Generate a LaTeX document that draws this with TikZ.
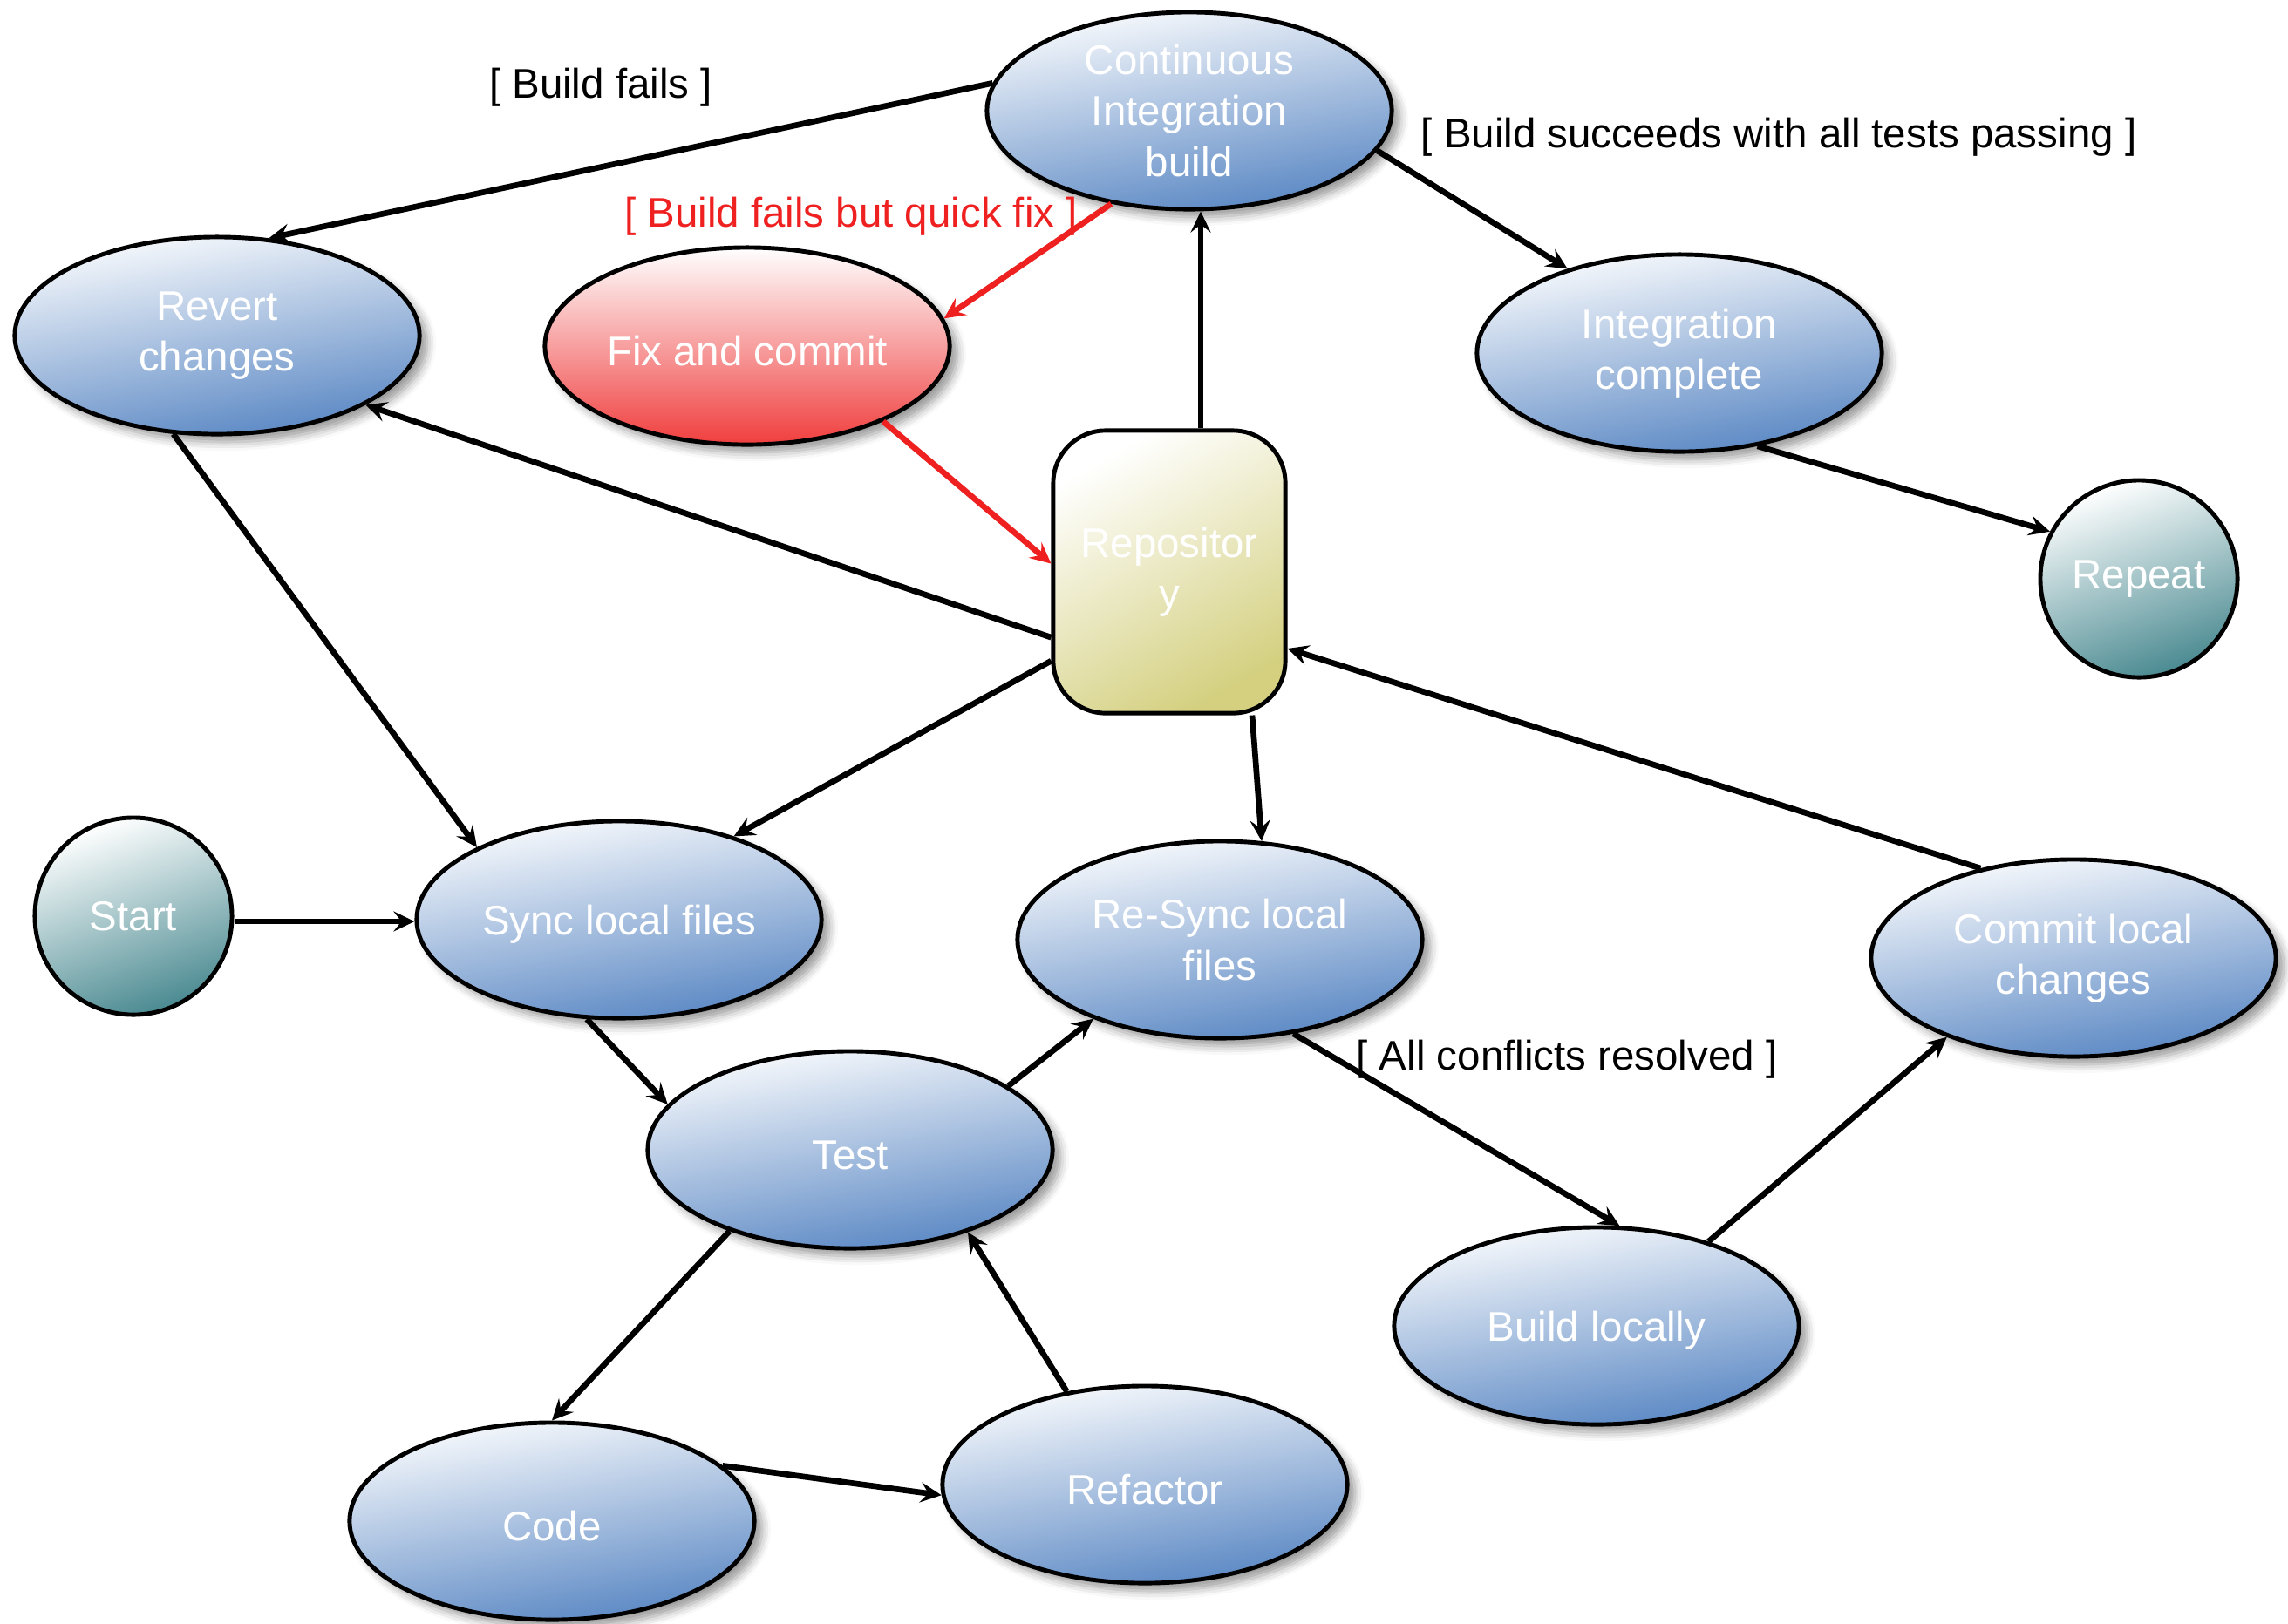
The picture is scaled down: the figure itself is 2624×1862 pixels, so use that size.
\documentclass[tikz,border=0pt]{standalone}
\usepackage{fontspec}
\setmainfont{Liberation Sans}
\usetikzlibrary{shapes,arrows,positioning}
\usetikzlibrary{arrows.meta,shadows.blur}

% colours of the states
\definecolor{stateblue}{RGB}{88,134,195}
\definecolor{statered}{RGB}{240,62,62}
\definecolor{stateteal}{RGB}{74,138,145}
\definecolor{repoolive}{RGB}{212,208,128}
\definecolor{fixred}{RGB}{238,32,32}

\tikzset{
  state/.style={ellipse, draw, line width=1.4pt, minimum width=4.64cm, minimum height=2.26cm,
    inner sep=-8pt, align=center, text=white, top color=white!96!stateblue, bottom color=stateblue,
    shading angle=10, execute at begin node={\rule{0pt}{13pt}},
    blur shadow={shadow xshift=0.9mm, shadow yshift=-0.9mm, shadow blur radius=1mm}},
  hotstate/.style={state, bottom color=statered, top color=white},
  endstate/.style={circle, draw, line width=1.4pt, minimum size=2.26cm, inner sep=0pt,
    text=white, top color=white, bottom color=stateteal, shading angle=20},
  repobox/.style={rectangle, rounded corners=0.6cm, draw, line width=1.4pt, minimum width=2.66cm,
    minimum height=3.24cm, align=center, text=white, top color=white, bottom color=repoolive, shading angle=30},
  guard/.style={inner sep=0pt},
  flow/.style={line width=1.9pt, -{Stealth[length=2.4mm,width=2.3mm,inset=0.9mm]}},
  quickfix/.style={flow, fixred}
}

\begin{document}
\begin{tikzpicture}[x=0.01cm, y=-0.01cm, font=\fontsize{13.5}{16.5}\selectfont]
\useasboundingbox (0,0) rectangle (2624,1862);

% States
\node[state] (ci) at (1364,127) {Continuous\\Integration\\build};
\node[state] (revert) at (249,385) {Revert\\changes};
\node[hotstate] (fix) at (857,397) {Fix and commit};
\node[state] (integ) at (1926,405) {Integration\\complete};
\node[endstate] (repeat) at (2453,664) {Repeat};
\node[repobox] (repo) at (1341,656) {Repositor\\y};
\node[endstate] (start) at (153,1051) {Start};
\node[state] (sync) at (710,1055) {Sync local files};
\node[state] (resync) at (1399,1078) {Re-Sync local\\files};
\node[state] (commit) at (2378,1099) {Commit local\\changes};
\node[state] (test) at (975,1319) {Test};
\node[state] (build) at (1831,1521) {Build locally};
\node[state] (code) at (633,1745) {Code};
\node[state] (refactor) at (1313,1703) {Refactor};

% Guards
\node[guard] (gfail) at (689,100) {[ Build fails ]};
\node[guard] (gpass) at (2040,157) {[ Build succeeds with all tests passing ]};
\node[guard, text=fixred] (gquick) at (976,248) {[ Build fails but quick fix ]};
\node[guard] (gresolved) at (1797,1215) {[ All conflicts resolved ]};

% Transitions
\foreach \a/\b in {ci.172/revert.62, ci.-12/integ.143, integ.-50/repeat.152,
                   repo.-151/revert.-25, revert.-114/sync.153, repo.-143/sync.36,
                   repo.-60/resync.67, commit.136/repo.-33,
                   sync.-108/test.166, test.22/resync.-148, resync.-52/build.77,
                   build.37/commit.-148, test.-146/code.north, code.18/refactor.-177,
                   refactor.130/test.-35}
  \draw[flow] (\a) -- (\b);

\draw[flow] ([yshift=-0.06cm]start.east) -- ([yshift=-0.06cm]start.east -| sync.west);
\draw[flow] ([xshift=0.36cm]repo.north) -- ([xshift=0.36cm]repo.north |- ci.south);

% Quick fix path
\draw[quickfix] (ci.-130) -- (fix.8);
\draw[quickfix] (fix.-29) -- (repo.176);

\end{tikzpicture}
\end{document}
